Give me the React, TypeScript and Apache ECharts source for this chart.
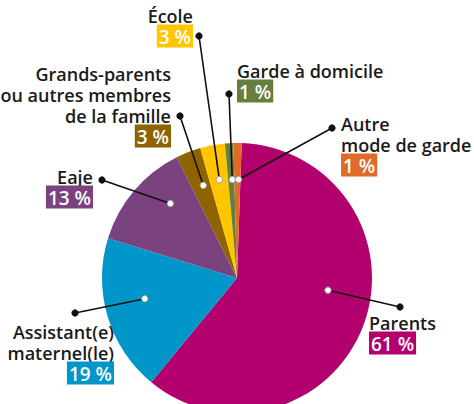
import React, { useEffect, useRef } from "react";
import * as echarts from "echarts";

const categories = [
  "Parents",
  "Assistant(e)\nmaternel(le)",
  "Eaje",
  "Grands-parents\nou autres membres\nde la famille",
  "École",
  "Garde à domicile",
  "Autre\nmode de garde",
];
const values = [61, 19, 13, 3, 3, 1, 1];
const colors = ["#b3006f", "#0096c9", "#7a4380", "#8f6300", "#ffc600", "#657f3e", "#df6a2a"];

// layout for each label: outer dot (px), text anchor (px), alignment,
// and where the inner dot sits inside its slice (fraction of slice angle, fraction of radius)
const labelLayouts = [
  { dot: [400, 307], tx: 369, ty: 312, align: "left", af: 0.44, rf: 0.68 },
  { dot: [75, 313], tx: 114, ty: 321, align: "right", af: 0.56, rf: 0.7 },
  { dot: [102, 180], tx: 93, ty: 166, align: "right", af: 0.67, rf: 0.74 },
  { dot: [180, 116], tx: 171, ty: 63, align: "right", af: 0.61, rf: 0.73 },
  { dot: [199, 36], tx: 193, ty: 5, align: "right", af: 0.53, rf: 0.74 },
  { dot: [229, 94], tx: 237, ty: 60, align: "left", af: 0.67, rf: 0.73 },
  { dot: [332, 128], tx: 341, ty: 113, align: "left", af: 0.69, rf: 0.73 },
];

const CX = 237;
const CY = 278;
const R = 135;
const START = 88;
const FONT = "Open Sans";

export default function App() {
  const ref = useRef<HTMLDivElement>(null);
  useEffect(() => {
    document.body.style.margin = "0";
    const chart = echarts.init(ref.current!, null, { renderer: "svg" });
    const total = values.reduce((a, b) => a + b, 0);
    let acc = 0;
    const inner: number[][] = values.map((v, i) => {
      const pos = acc + v * labelLayouts[i].af;
      acc += v;
      const ang = ((START - (pos / total) * 360) * Math.PI) / 180;
      const r = R * labelLayouts[i].rf;
      return [CX + r * Math.cos(ang), CY - r * Math.sin(ang)];
    });
    const graphics: any[] = [];
    labelLayouts.forEach((l, i) => {
      graphics.push({
        type: "polyline",
        shape: { points: [inner[i], l.dot] },
        style: { stroke: "#111111", lineWidth: 1.6, fill: null },
        z: 9,
      });
    });
    inner.forEach((p) => {
      graphics.push({
        type: "circle",
        shape: { cx: p[0], cy: p[1], r: 3.2 },
        style: { fill: "#ffffff", stroke: "#a0a0a0", lineWidth: 1 },
        z: 10,
      });
    });
    labelLayouts.forEach((l) => {
      graphics.push({
        type: "circle",
        shape: { cx: l.dot[0], cy: l.dot[1], r: 3.6 },
        style: { fill: "#111111" },
        z: 10,
      });
    });
    chart.setOption({
      animation: false,
      graphic: graphics,
      series: [
        {
          type: "pie",
          center: [CX, CY],
          radius: [0, R],
          startAngle: START,
          clockwise: true,
          avoidLabelOverlap: false,
          itemStyle: { borderWidth: 0 },
          data: values.map((v, i) => ({
            value: v,
            name: categories[i],
            itemStyle: { color: colors[i] },
            label: {
              align: labelLayouts[i].align,
              rich: {
                n: {
                  fontFamily: FONT,
                  fontWeight: 600,
                  fontSize: 18,
                  lineHeight: 21,
                  color: "#1a1a1a",
                  align: labelLayouts[i].align,
                },
                v: {
                  fontFamily: FONT,
                  fontWeight: 600,
                  fontSize: 19,
                  lineHeight: 20,
                  color: "#ffffff",
                  backgroundColor: colors[i],
                  padding: [3, 2, 1, 2],
                  align: labelLayouts[i].align,
                },
              },
            },
          })),
          label: {
            show: true,
            formatter: (p: any) =>
              p.name
                .split("\n")
                .map((s: string) => "{n|" + s + "}")
                .join("\n") +
              "\n{v|" +
              p.value +
              " %}",
          },
          labelLine: { show: false },
          labelLayout: (params: any) => {
            const l = labelLayouts[params.dataIndex];
            return {
              x: l.tx,
              y: l.ty,
              align: l.align,
              verticalAlign: "top",
            };
          },
        },
      ],
    });
    return () => chart.dispose();
  }, []);
  return <div ref={ref} style={{ width: 474, height: 404 }} />;
}
